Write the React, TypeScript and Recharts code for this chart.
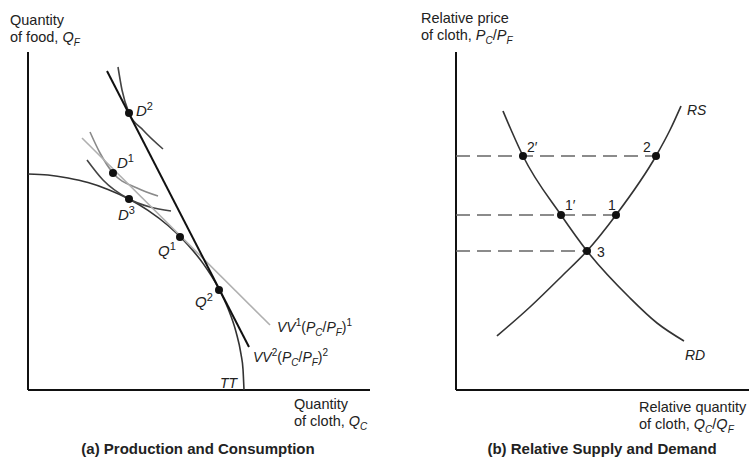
import React from "react";
import {ComposedChart, Line, ReferenceLine, Scatter, XAxis, YAxis} from "recharts";

const FONT = "'Liberation Sans', Arial, Helvetica, sans-serif";

// (a) production and consumption, in plot units (cloth across, food up)
const ttCurve = [
  {x: 0, y: 216}, {x: 20, y: 215}, {x: 40, y: 212}, {x: 60, y: 207.5}, {x: 80, y: 200.6},
  {x: 100, y: 191.5}, {x: 120, y: 179.6}, {x: 140, y: 164.5}, {x: 160, y: 145.1},
  {x: 175, y: 126.6}, {x: 190, y: 102.7}, {x: 200, y: 81.6}, {x: 208, y: 58.2},
  {x: 213, y: 35.9}, {x: 215, y: 20.8}, {x: 216, y: 0},
];
const vv1Line = [{x: 54, y: 252}, {x: 242, y: 65}];
const vv2Line = [{x: 79, y: 319}, {x: 221, y: 43}];
const indiffD2 = [{x: 90, y: 323}, {x: 94, y: 300}, {x: 101, y: 277}, {x: 115, y: 260}, {x: 135, y: 241}];
const indiffD1 = [{x: 62, y: 258}, {x: 72, y: 237}, {x: 85, y: 217}, {x: 109, y: 202}, {x: 130, y: 194}];
const indiffD3 = [{x: 59, y: 230}, {x: 75, y: 210}, {x: 101, y: 191}, {x: 122, y: 183}, {x: 143, y: 179}];
const leftPoints = [
  {x: 101, y: 277, id: "D2", base: "D", sup: "2"},
  {x: 85, y: 217, id: "D1", base: "D", sup: "1"},
  {x: 101, y: 191, id: "D3", base: "D", sup: "3"},
  {x: 152, y: 153, id: "Q1", base: "Q", sup: "1"},
  {x: 191, y: 100, id: "Q2", base: "Q", sup: "2"},
];

// (b) relative supply and demand
const rdCurve = [
  {x: 47, y: 279}, {x: 56, y: 258}, {x: 67, y: 234}, {x: 105, y: 175},
  {x: 131, y: 139}, {x: 174, y: 92}, {x: 201, y: 67}, {x: 228, y: 49},
];
const rsCurve = [
  {x: 41, y: 54}, {x: 74, y: 83}, {x: 107, y: 115}, {x: 131, y: 139},
  {x: 160, y: 175}, {x: 200, y: 234}, {x: 214, y: 260}, {x: 225, y: 284},
];
const rsPoints = [
  {x: 200, y: 234, id: "2", base: "2"},
  {x: 160, y: 175, id: "1", base: "1"},
  {x: 131, y: 139, id: "3", base: "3"},
];
const rdPoints = [
  {x: 67, y: 234, id: "2p", base: "2\u2032"},
  {x: 105, y: 175, id: "1p", base: "1\u2032"},
];

const labelOffsets: Record<string, [number, number]> = {
  D2: [7, 3], D1: [4, -5], D3: [-11, 21], Q1: [-22, 19], Q2: [-24, 17],
  "2": [-13, -4], "1": [-8, -5], "3": [10, 6], "2p": [4, -4], "1p": [4, -5],
};

const PointMark = (props: any) => {
  const {cx, cy, payload} = props;
  if (cx == null || cy == null) return null;
  const off = labelOffsets[payload.id] || [0, 0];
  const italic = !!payload.sup;
  return (
    <g>
      <circle cx={cx} cy={cy} r={4} fill="#111"/>
      <text x={cx + off[0]} y={cy + off[1]} fontFamily={FONT} fontSize={italic ? 15 : 14} fill="#222">
        <tspan fontStyle={italic ? "italic" : "normal"}>{payload.base}</tspan>
        {payload.sup && <tspan dy={-6} fontSize={11} fontStyle="normal">{payload.sup}</tspan>}
      </text>
    </g>
  );
};

const txt: React.CSSProperties = {
  position: "absolute", fontFamily: FONT, fontSize: 14.5, lineHeight: "17px",
  color: "#222", whiteSpace: "nowrap",
};
const sub = (s: string) => (
  <span style={{fontSize: 10, position: "relative", top: 4, fontStyle: "italic"}}>{s}</span>
);
const sup = (s: string) => (
  <span style={{fontSize: 10, position: "relative", top: -6}}>{s}</span>
);
const it = (s: string) => <i>{s}</i>;

const App: React.FC = () => {
  return (
    <div style={{position: "absolute", left: 0, top: 0, width: 749, height: 471, background: "#fff", overflow: "hidden"}}>
      <div style={{position: "absolute", left: 0, top: 0}}>
        <ComposedChart width={380} height={471} margin={{top: 52, right: 10, bottom: 81, left: 28}}>
          <XAxis type="number" dataKey="x" domain={[0, 342]} hide/>
          <YAxis type="number" dataKey="y" domain={[0, 338]} hide/>
          <ReferenceLine x={0} stroke="#111" strokeWidth={2}/>
          <ReferenceLine y={0} stroke="#111" strokeWidth={2}/>
          <Line data={ttCurve} dataKey="y" type="monotone" stroke="#333" strokeWidth={1.6} dot={false} activeDot={false} isAnimationActive={false}/>
          <Line data={indiffD1} dataKey="y" type="monotone" stroke="#8a8a8a" strokeWidth={1.6} dot={false} activeDot={false} isAnimationActive={false}/>
          <Line data={indiffD3} dataKey="y" type="monotone" stroke="#444" strokeWidth={1.6} dot={false} activeDot={false} isAnimationActive={false}/>
          <Line data={indiffD2} dataKey="y" type="monotone" stroke="#444" strokeWidth={1.6} dot={false} activeDot={false} isAnimationActive={false}/>
          <Line data={vv1Line} dataKey="y" type="linear" stroke="#b0b0b0" strokeWidth={1.6} dot={false} activeDot={false} isAnimationActive={false}/>
          <Line data={vv2Line} dataKey="y" type="linear" stroke="#111" strokeWidth={2} dot={false} activeDot={false} isAnimationActive={false}/>
          <Scatter data={leftPoints} shape={PointMark} isAnimationActive={false}/>
        </ComposedChart>
      </div>
      <div style={{position: "absolute", left: 380, top: 0}}>
        <ComposedChart width={369} height={471} margin={{top: 52, right: 0, bottom: 81, left: 76}}>
          <XAxis type="number" dataKey="x" domain={[0, 293]} hide/>
          <YAxis type="number" dataKey="y" domain={[0, 338]} hide/>
          <ReferenceLine x={0} stroke="#111" strokeWidth={2}/>
          <ReferenceLine y={0} stroke="#111" strokeWidth={2}/>
          {rsPoints.map((p) => (
            <Line key={"dash" + p.id} data={[{x: 0, y: p.y}, {x: p.x, y: p.y}]} dataKey="y" type="linear"
                  stroke="#666" strokeWidth={1.5} strokeDasharray="14 7" dot={false} activeDot={false} isAnimationActive={false}/>
          ))}
          <Line data={rdCurve} dataKey="y" type="monotone" stroke="#333" strokeWidth={1.6} dot={false} activeDot={false} isAnimationActive={false}/>
          <Line data={rsCurve} dataKey="y" type="monotone" stroke="#333" strokeWidth={1.6} dot={false} activeDot={false} isAnimationActive={false}/>
          <Scatter data={rsPoints} shape={PointMark} isAnimationActive={false}/>
          <Scatter data={rdPoints} shape={PointMark} isAnimationActive={false}/>
        </ComposedChart>
      </div>

      <div style={{...txt, left: 10, top: 12}}>Quantity<br/>of food, {it("Q")}{sub("F")}</div>
      <div style={{...txt, left: 294, top: 396}}>Quantity<br/>of cloth, {it("Q")}{sub("C")}</div>
      <div style={{...txt, left: 277, top: 319, fontSize: 14}}>{it("VV")}{sup("1")}({it("P")}{sub("C")}/{it("P")}{sub("F")}){sup("1")}</div>
      <div style={{...txt, left: 253, top: 349, fontSize: 14}}>{it("VV")}{sup("2")}({it("P")}{sub("C")}/{it("P")}{sub("F")}){sup("2")}</div>
      <div style={{...txt, left: 220, top: 375, fontSize: 14}}>{it("TT")}</div>

      <div style={{...txt, left: 421, top: 10}}>Relative price<br/>of cloth, {it("P")}{sub("C")}/{it("P")}{sub("F")}</div>
      <div style={{...txt, left: 639, top: 399}}>Relative quantity<br/>of cloth, {it("Q")}{sub("C")}/{it("Q")}{sub("F")}</div>
      <div style={{...txt, left: 687, top: 102, fontSize: 14}}>{it("RS")}</div>
      <div style={{...txt, left: 685, top: 347, fontSize: 14}}>{it("RD")}</div>

      <div style={{...txt, left: 0, width: 396, textAlign: "center", top: 440, fontWeight: "bold", fontSize: 15}}>(a) Production and Consumption</div>
      <div style={{...txt, left: 400, width: 404, textAlign: "center", top: 440, fontWeight: "bold", fontSize: 15}}>(b) Relative Supply and Demand</div>
    </div>
  );
};

export default App;
